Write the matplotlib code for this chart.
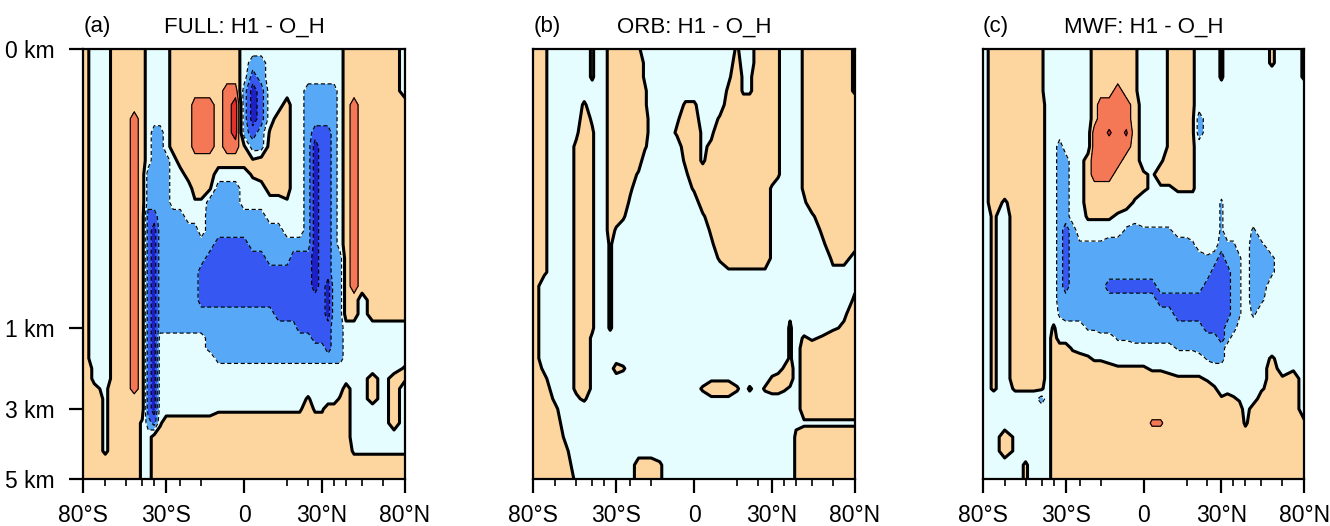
import numpy as np
import matplotlib
matplotlib.use("Agg")
import matplotlib.pyplot as plt
import matplotlib.ticker as mticker

plt.rcParams['font.family'] = ['Liberation Sans', 'DejaVu Sans']

### grid of the sections (model latitudes / depths in km)
LATS = [-80, -75, -70, -65, -60, -55, -50, -45, -40, -35, -30,
        -25, -20, -16, -13, -10, -8, -6, -4, -2,
        0, 2, 4, 6, 8, 10, 13, 16, 20,
        25, 30, 35, 40, 45, 50,
        55, 60, 65, 70, 75, 80]
DEPTHS = [0.0, 0.05, 0.1, 0.15, 0.2, 0.25, 0.3, 0.35, 0.4, 0.45, 0.5,
          0.55, 0.6, 0.65, 0.7, 0.75, 0.8, 0.85, 0.9, 0.95, 1.0,
          1.25, 1.5, 1.75, 2.0, 2.25, 2.5, 2.75, 3.0, 3.4, 3.8, 4.2, 4.6, 5.0]

### stretched axes of the original plot (ocean model grid index)
LAT_KNOTS = [-80, -70, -60, -50, -40, -30, -20, -10, 0, 10, 20, 30, 40, 50, 60, 70, 80]
LAT_POS = [-161, -139, -118, -102, -90, -78, -64, -43, 0, 43, 64, 78, 90, 102, 118, 139, 161]
DEP_KNOTS = [0, 1, 3, 5]
DEP_POS = [0, 279, 360, 430]

### value codes (anomaly in contour-interval units)
CODE = {'R': 2.5, 'r': 2.15, 'o': 1.5, 'q': 1.15, '+': 0.5, ';': 0.15,
        ',': -0.15, '.': -0.5, 'c': -1.15, 'b': -1.5, 'B': -2.5, 'D': -3.5}

FULL = [
    "+..++++ .... +++++++++ ......... .....+ +++++.",
    "+..++++ .... +++++++++ .bb...... .....+ +++++.",
    "+..++++ .... +++++++++ .Bb...... .....+ +++++.",
    "+..++++ .... +++++++oo bDB.....b bbbb.+ +++++.",
    "+..++++ .... +++ooo+oR bDB..+..b bbbb.+ o+++++",
    "+..++o+ .... +++ooo+oR bDB.++..b bbbb.+ o+++++",
    "+..++o+ .bb. +++ooo+oR bBb;++..b BBBb.+ o+++++",
    "+..++o+ .bb. +++ooo+oo ;bb+++..b DBBb.+ o+++++",
    "+..++o+ .bbb .++++++++ +;++++..b DBBb.+ o+++++",
    "+..++o+ bbbb ..++++... .;++++..b DBBb.+ o+++++",
    "+..++o+ bbbb ...++;bbb ...+++..b DBBb.+ o+++++",
    "+..++o+ bbbb ...,,bbbb .....,..b DBBb.+ o+++++",
    "+..++o+ BBbb bb...bbbb bbb.....b DBBb.+ o+++++",
    "+..++o+ BDbb bbbb.bbbb bbbbb...b DBBb.+ o+++++",
    "+..++o+ BDbb bbbbbbBBB Bbbbbbbbb DBBb.+ o+++++",
    "+..++o+ BDbb bbbbbBBBB BBBbbbBBB DBBbb+ o+++++",
    "+..++o+ BDbb bbbbBBBBB BBBBBBBBB DBBbb+ o+++++",
    "+..++o+ BDbb bbbbBBBBB BBBBBBBBB DBDbb+ o+++++",
    "+..++o+ BDbb bbbbBBBBB BBBBBBBBB BBDbb+ +.++++",
    "+..++o+ BDbb bbbbbbbbb bbbbBBBBB BBDbb+ +.++++",
    "+..++o+ BDbb bbbbbbbbb bbbbbbbBB BBBbb. ......",
    "+..++o+ BD.. .....bbbb bbbbbbbbb BBBbb. ......",
    "+..++o+ BD.. .....bbbb bbbbbbbbb bbBbb. ......",
    "+..++o+ BD.. .....,bbb bbbbbbbbb bbbbb. ......",
    "+,.++o+ BD.. ......... ......... ...... .....;",
    "+,.++o+ BD.. ......... ......... ...... ..+.+;",
    "+;,++o+ BD.. ......... ......... .....+ ..+.+.",
    "++,++++ BD.. ......... ........; ....;+ ..+.+.",
    "++,++++ BD.. ......,,, ,,,,,,,,+ ,,++++ ....+.",
    "++,+++, bB,+ +++++++++ +++++++++ ++++++ ....+.",
    "++,+++, .+++ +++++++++ +++++++++ ++++++ ......",
    "++,+++, .+++ +++++++++ +++++++++ ++++++ ,,,,,,",
    "++++++, .+++ +++++++++ +++++++++ ++++++ ++++++",
    "++++++, .+++ +++++++++ +++++++++ ++++++ ++++++",
]

ORB = [
    "+;....; ..++ ++;...... .....;..+ ++;... ;++++,",
    "+;....; ..++ +++,..... .....+..+ ++;... ;++++,",
    "+;....; ..++ +++,..... ....,+,,+ ++;... ;++++,",
    "+;..... ..++ +++;..... ....;+,,+ ++;... ;++++,",
    "+;...;. ..++ +++;....; ;...+++++ ++;... ;+++++",
    "+;...+, ..++ ++++...,+ +..;+++++ ++;... ;+++++",
    "+;..,+; ..++ ++++...;+ +,,++++++ ++;... ;+++++",
    "+;..;+; ..++ +++;....+ +,;++++++ ++;... ;+++++",
    "+;..;+; ..++ +++.....; +,+++++++ ++;... ;+++++",
    "+;..;+; ..++ ++,....., +++++++++ ++;... ;+++++",
    "+;..;+; ..++ +;....... ;++++++++ +,.... ;+++++",
    "+;..;+; ..++ +,....... .++++++++ +,.... ,+++++",
    "+;..;+; ..++ ;........ .,+++++++ +,.... .,++++",
    "+;..;+; ..+, ......... ..;++++++ +,.... ..;+++",
    "+;..;+; ..;. ......... ..,++++++ +,.... ..,++;",
    "+;..;+; ..;. ......... ...;+++++ +,.... ...;;,",
    "+;..;+; ..;. ......... ....,,,,, ,..... ...,,.",
    "+...;+; ..;. ......... ......... ...... .....,",
    "+...;+; ..;. ......... ......... ...... .....;",
    "+...;+; ..;. ......... ......... ....,. ....,+",
    "+...;+; ..;. ......... ......... ....;. ...,;+",
    "+...;+, .... ......... ......... ....;. ;,;+++",
    "+...;+, .... ......... ......... ....;. ++++++",
    "+...;+, .... ......... ......... ....;. ++++++",
    "+,..;+, ...+ ;........ ......... ...;+. ++++++",
    "+;..;+, .... ......... ..,,,.... .;+++. ++++++",
    "++..;+, .... ......... .;+++;.;. ;++;,. ++++++",
    "++,.,;. .... ......... ..,,,.... ...... ++++++",
    "++;.... .... ......... ......... ...... ++++++",
    "+++.... .... ......... ......... ....., ,,,,,,",
    "+++,... .... ......... ......... .....; ++++++",
    "+++;... .... ......... ......... .....; ++++++",
    "++++... .... ..+++;... ......... .....; ++++++",
    "++++,.. .... ..+++;... ......... .....; ++++++",
]

MWF = [
    ".+++++; .... ...+++++; ...;++;.. .;.... ..;..;",
    ".+++++; .... ...+++++; ...;++;.. .;.... ..;..;",
    ".+++++; .... ...+++++; ...;++;.. .;.... .....;",
    ".+++++; .... ...+++o+; ...;++;.. ...... ......",
    ".++++++ .... ...+oooo+ ...;++;.. ...... ......",
    ".++++++ .... ...+oooo+ ...;++;b. ...... ......",
    ".++++++ .... ...ooror+ ...;++;b. ...... ......",
    ".++++++ ..b. ...ooooo+ ...;++;.. ...... ......",
    ".++++++ ..bb ..+oooo++ ..,+++;.. ...... ......",
    ".++++++ ..bb ..+ooo+++ ;,++++;.. ...... ......",
    ".++++++ ..bb ..+++++++ ;,,,;;;.. ...... ......",
    ".+,++++ ..bb ..++++++, ......... .c.... ......",
    ".;.++++ ..bb ..;;;;,.. ......... .c.... ......",
    ".;.++++ ..bB b......cb cccc..... .c.... c.....",
    ".;.++++ ..bB bccccbbbb bbbbbbc.. .bcc.. bc....",
    ".;.++++ ..bB bbbbbbbbb bbbbbbbbc bBbbc. bbc...",
    ".;.++++ ..bB bbbbbbbbb bbbbbbbbb BBBbc. bbc...",
    ".;.++++ ..bB bbbbbBBBB BBbbbbbbB BBBbc. bb....",
    ".;.++++ ..bb bbbbbbbbb bbBBBBBBB BBBbc. bc....",
    ".;.++++ ..cb bbbbbbbbb bbbbBBBBB BBBbc. c.....",
    ".;.++++ .;.. ..ccbbbbb bbbbbbbbB BBbb.. ......",
    ".;.++++ .+.. ......ccb bbbbbbbbb bBb... ......",
    ".;.++++ .+++ ,........ ....cccbb bb.... ......",
    ".;.++++ .+++ ++;,,.... ........c bb.... ..;...",
    ".;.++++ .+++ ++++++;;; ;,,...... ...... ..+.,.",
    ".;.++++ .+++ +++++++++ ++++;;;;, ...... ..+;+.",
    ".;.;;;; .+++ +++++++++ +++++++++ ;..... .,+++.",
    "......b .+++ +++++++++ +++++++++ +;+;,. .++++.",
    "....... .+++ +++++++++ +++++++++ +++++. +++++.",
    "....... .+++ +++++++++ +qq++++++ +++++, +++++;",
    "..+,... .+++ +++++++++ +++++++++ ++++++ ++++++",
    "..+,... .+++ +++++++++ +++++++++ ++++++ ++++++",
    "....;.. .+++ +++++++++ +++++++++ ++++++ ++++++",
    "....;.. .+++ +++++++++ +++++++++ ++++++ ++++++",
]

PANELS = [('(a)', 'FULL: H1 - O_H', FULL),
          ('(b)', 'ORB: H1 - O_H', ORB),
          ('(c)', 'MWF: H1 - O_H', MWF)]

XTICKS = [-80, -30, 0, 30, 80]
XTICKLABELS = ['80°S', '30°S', '0', '30°N', '80°N']
XMINOR = [-70, -60, -50, -40, -20, -10, 10, 20, 40, 50, 60, 70]
YTICKS = [0, 1, 3, 5]
YTICKLABELS = ['0 km', '1 km', '3 km', '5 km']

### contour levels and colours
clevs = [-10, -3, -2, -1, 0, 1, 2, 10]
ccols = ['#1e20c4', '#3657f2', '#58a8f8', '#e6fdff', '#fdd59f', '#f47856', '#e2302f']


def decode(rows):
    z = np.array([[CODE[ch] for ch in row.replace(' ', '')] for row in rows])
    assert z.shape == (len(DEPTHS), len(LATS)), z.shape
    return z


def lat_fwd(x):
    return np.interp(x, LAT_KNOTS, LAT_POS)


def lat_inv(x):
    return np.interp(x, LAT_POS, LAT_KNOTS)


def dep_fwd(y):
    return np.interp(y, DEP_KNOTS, DEP_POS)


def dep_inv(y):
    return np.interp(y, DEP_POS, DEP_KNOTS)


fig = plt.figure(figsize=(13.3, 5.26), dpi=100)
lefts = [83.3 / 1330, 533.3 / 1330, 982.7 / 1330]

X, Y = np.meshgrid(LATS, DEPTHS)

for i, (tag, title, rows) in enumerate(PANELS):
    Z = decode(rows)
    ax = fig.add_axes([lefts[i], 1 - 479 / 526, 321.7 / 1330, 430 / 526])
    ax.set_xscale('function', functions=(lat_fwd, lat_inv))
    ax.set_yscale('function', functions=(dep_fwd, dep_inv))

    ax.contourf(X, Y, Z, levels=clevs, colors=ccols)
    ax.contour(X, Y, Z, levels=[-3, -2, -1], colors='black', linewidths=0.85,
               linestyles=[(0, (3.5, 2.2))])
    ax.contour(X, Y, Z, levels=[1, 2], colors='black', linewidths=0.85, linestyles='solid')
    ax.contour(X, Y, Z, levels=[0], colors='black', linewidths=2.2, linestyles='solid')

    ax.set_xlim(-80, 80)
    ax.set_ylim(5, 0)

    ax.xaxis.set_major_locator(mticker.FixedLocator(XTICKS))
    ax.xaxis.set_minor_locator(mticker.FixedLocator(XMINOR))
    ax.set_xticklabels(XTICKLABELS)
    ax.tick_params(axis='x', which='major', direction='out', length=10, width=1.6,
                   labelsize=16.5, pad=8, top=False)
    ax.tick_params(axis='x', which='minor', direction='out', length=5, width=1.2, top=False)

    ax.yaxis.set_minor_locator(mticker.NullLocator())
    if i == 0:
        ax.yaxis.set_major_locator(mticker.FixedLocator(YTICKS))
        ax.set_yticklabels(YTICKLABELS)
        ax.tick_params(axis='y', which='major', direction='out', length=10, width=1.6,
                       labelsize=16.5, pad=11, right=False)
    else:
        ax.yaxis.set_major_locator(mticker.NullLocator())
        ax.tick_params(axis='y', left=False, right=False, labelleft=False)

    for sp in ax.spines.values():
        sp.set_linewidth(1.6)

    ax.set_title(title, fontsize=16, pad=12)
    ax.set_title(tag, loc='left', fontsize=16, pad=12)

plt.savefig('out.png', dpi=100)
plt.close(fig)
